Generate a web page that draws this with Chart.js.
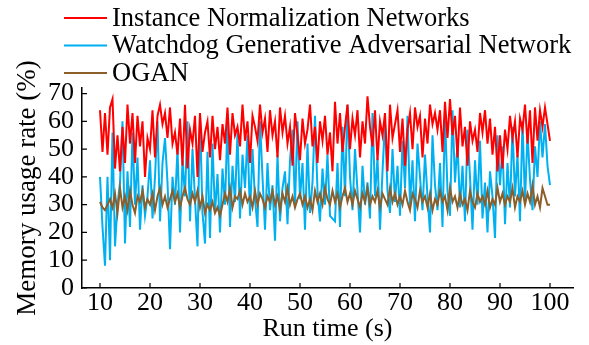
<!DOCTYPE html>
<html>
<head>
<meta charset="utf-8">
<script src="https://cdn.jsdelivr.net/npm/chart.js@4.4.1/dist/chart.umd.min.js"></script>
<style>
  html, body { margin: 0; padding: 0; background: #fff; }
  #wrap { width: 589px; height: 345px; }
</style>
</head>
<body>
<div id="wrap"><canvas id="memChart" width="589" height="345"></canvas></div>
<script>
// Run time samples, every 0.5 s from 10 to 100
const runTimes = Array.from({ length: 181 }, (_, i) => 10 + i * 0.5);
const xTicks = [10, 20, 30, 40, 50, 60, 70, 80, 90, 100];
const yTicks = [0, 10, 20, 30, 40, 50, 60, 70];

const seriesNames = [
  'Instance Normalization Networks',
  'Watchdog Generative Adversarial Network',
  'OGAN'
];

// Instance Normalization Networks
const innValues = [
  64, 49, 63, 48, 65, 68, 43, 55, 42, 58,
  45, 66, 52, 63, 45, 62, 51, 60, 40, 54,
  50, 64, 47, 62, 66, 59, 63, 54, 65, 52,
  56, 48, 61, 44, 66, 43, 57, 52, 62, 40,
  63, 49, 56, 60, 47, 62, 50, 58, 46, 59,
  52, 65, 48, 63, 55, 58, 51, 66, 53, 60,
  45, 62, 58, 53, 66, 56, 61, 49, 64, 55,
  60, 47, 65, 56, 62, 52, 58, 44, 63, 55,
  46, 61, 52, 57, 66, 51, 58, 45, 60, 53,
  62, 48, 56, 42, 67, 52, 63, 49, 58, 66,
  50, 61, 55, 64, 47, 60, 52, 69, 58, 51,
  64, 46, 60, 55, 63, 42, 66, 54, 59, 64,
  49, 61, 44, 57, 63, 50, 65, 58, 62, 47,
  61, 52, 66, 59, 63, 57, 64, 49, 67, 54,
  68, 55, 62, 47, 65, 51, 58, 44, 60, 53,
  57, 49, 63, 56, 64, 52, 61, 48, 58, 42,
  55, 43, 57, 50, 62, 54, 60, 47, 61, 57,
  66, 52, 64, 45, 65, 53, 64, 58, 65, 59,
  53
];

// Watchdog Generative Adversarial Network
const wganValues = [
  40, 22, 8, 40, 10, 56, 15, 30, 38, 60,
  16, 42, 22, 56, 30, 47, 21, 37, 26, 33,
  46, 25, 40, 60, 24, 45, 54, 38, 14, 40,
  30, 50, 20, 46, 33, 60, 24, 50, 32, 15,
  62, 27, 16, 49, 18, 52, 27, 41, 20, 43,
  30, 60, 22, 44, 31, 56, 25, 48, 36, 55,
  26, 50, 32, 22, 60, 40, 21, 45, 28, 37,
  17, 48, 24, 36, 42, 23, 46, 57, 30, 60,
  32, 45, 21, 52, 27, 38, 62, 35, 24, 43,
  30, 48, 26, 25, 24, 45, 22, 58, 33, 66,
  40, 28, 50, 35, 20, 44, 30, 38, 25, 63,
  33, 47, 21, 42, 60, 35, 27, 50, 31, 44,
  26, 53, 36, 62, 30, 46, 24, 52, 40, 28,
  48, 33, 20, 55, 37, 28, 45, 22, 62, 35,
  26, 64, 38, 52, 29, 44, 24, 57, 40, 21,
  46, 30, 53, 25, 38, 20, 42, 33, 18, 55,
  37, 51, 23, 45, 29, 58, 33, 48, 24, 60,
  31, 56, 39, 28, 51, 40, 60, 47, 59, 44,
  37
];

// OGAN
const oganValues = [
  31, 29, 28, 30, 32, 29, 34, 27, 36, 29,
  33, 28, 35, 30, 27, 33, 31, 35, 29, 32,
  30, 34, 28, 33, 36, 30, 33, 29, 32, 35,
  31, 34, 29, 33, 36, 32, 30, 34, 31, 35,
  29, 33, 27, 30, 28, 31, 27, 29, 26, 30,
  34, 31, 36, 29, 33, 32, 35, 30, 34, 31,
  33, 29, 35, 30, 34, 32, 29, 33, 31, 35,
  30, 33, 28, 34, 31, 36, 30, 33, 29, 32,
  34, 30, 33, 29, 32, 28, 35, 31, 34, 30,
  36, 32, 30, 35, 31, 34, 29, 33, 36, 31,
  34, 30, 35, 32, 29, 34, 31, 36, 30, 33,
  31, 35, 29, 34, 32, 30, 36, 31, 34, 30,
  33, 30, 35, 31, 28, 34, 32, 29, 35, 31,
  33, 29, 34, 28, 32, 30, 35, 31, 33, 28,
  36, 31, 33, 29, 34, 30, 32, 28, 35, 31,
  29, 34, 31, 33, 30, 35, 29, 32, 30, 36,
  31, 34, 30, 33, 31, 36, 29, 33, 31, 35,
  30, 34, 31, 37, 30, 33, 29, 36, 33, 30,
  30
];

const serif = 'Liberation Serif, Times New Roman, serif';

// legend drawn top-left, one row per series
const sideLegend = {
  id: 'sideLegend',
  afterDraw(chart) {
    const c = chart.ctx;
    c.save();
    c.font = '26.5px ' + serif;
    c.textBaseline = 'middle';
    chart.data.datasets.forEach((ds, i) => {
      const y = 18 + i * 27.5;
      c.strokeStyle = ds.borderColor;
      c.lineWidth = 2;
      c.beginPath();
      c.moveTo(64, y);
      c.lineTo(107, y);
      c.stroke();
      c.fillStyle = '#000';
      c.fillText(ds.label, 112, y + 1);
    });
    c.restore();
  }
};

// small tick marks pointing into the plot
const innerTicks = {
  id: 'innerTicks',
  afterDraw(chart) {
    const c = chart.ctx;
    const xs = chart.scales.x, ys = chart.scales.y;
    const a = chart.chartArea;
    c.save();
    c.strokeStyle = '#000';
    c.lineWidth = 1.2;
    c.beginPath();
    xs.ticks.forEach(t => {
      const px = xs.getPixelForValue(t.value);
      c.moveTo(px, a.bottom);
      c.lineTo(px, a.bottom - 5);
    });
    ys.ticks.forEach(t => {
      const py = ys.getPixelForValue(t.value);
      c.moveTo(a.left, py);
      c.lineTo(a.left + 5, py);
    });
    c.stroke();
    c.restore();
  }
};

new Chart(document.getElementById('memChart'), {
  type: 'line',
  data: {
    labels: runTimes,
    datasets: [
      { label: seriesNames[0], data: innValues, borderColor: '#ff0000', order: 0 },
      { label: seriesNames[1], data: wganValues, borderColor: '#00b0f0', order: 2 },
      { label: seriesNames[2], data: oganValues, borderColor: '#8b5e2a', order: 1 }
    ]
  },
  options: {
    responsive: false,
    animation: false,
    elements: {
      point: { radius: 0 },
      line: { borderWidth: 2, tension: 0 }
    },
    layout: { padding: { top: 88, right: 16, bottom: 0, left: 0 } },
    plugins: {
      legend: { display: false },
      tooltip: { enabled: false }
    },
    scales: {
      x: {
        type: 'linear',
        min: 6.4,
        max: 104.6,
        afterBuildTicks: s => { s.ticks = xTicks.map(v => ({ value: v })); },
        afterFit: s => { s.height = 57; },
        grid: { drawOnChartArea: false, drawTicks: false },
        border: { color: '#000', width: 1.5 },
        ticks: { color: '#000', font: { family: serif, size: 26 }, padding: 0, maxRotation: 0, autoSkip: false },
        title: { display: true, text: 'Run time (s)', color: '#000', font: { family: serif, size: 26 }, padding: 0 }
      },
      y: {
        min: 0,
        max: 72,
        afterBuildTicks: s => { s.ticks = yTicks.map(v => ({ value: v })); },
        afterFit: s => { s.width = 82; },
        grid: { drawOnChartArea: false, drawTicks: false },
        border: { color: '#000', width: 1.5 },
        ticks: { color: '#000', font: { family: serif, size: 26 }, padding: 8, autoSkip: false },
        title: { display: true, text: 'Memory usage rate (%)', color: '#000', font: { family: serif, size: 27 }, padding: { top: 12, bottom: 0 } }
      }
    }
  },
  plugins: [sideLegend, innerTicks]
});
</script>
</body>
</html>
